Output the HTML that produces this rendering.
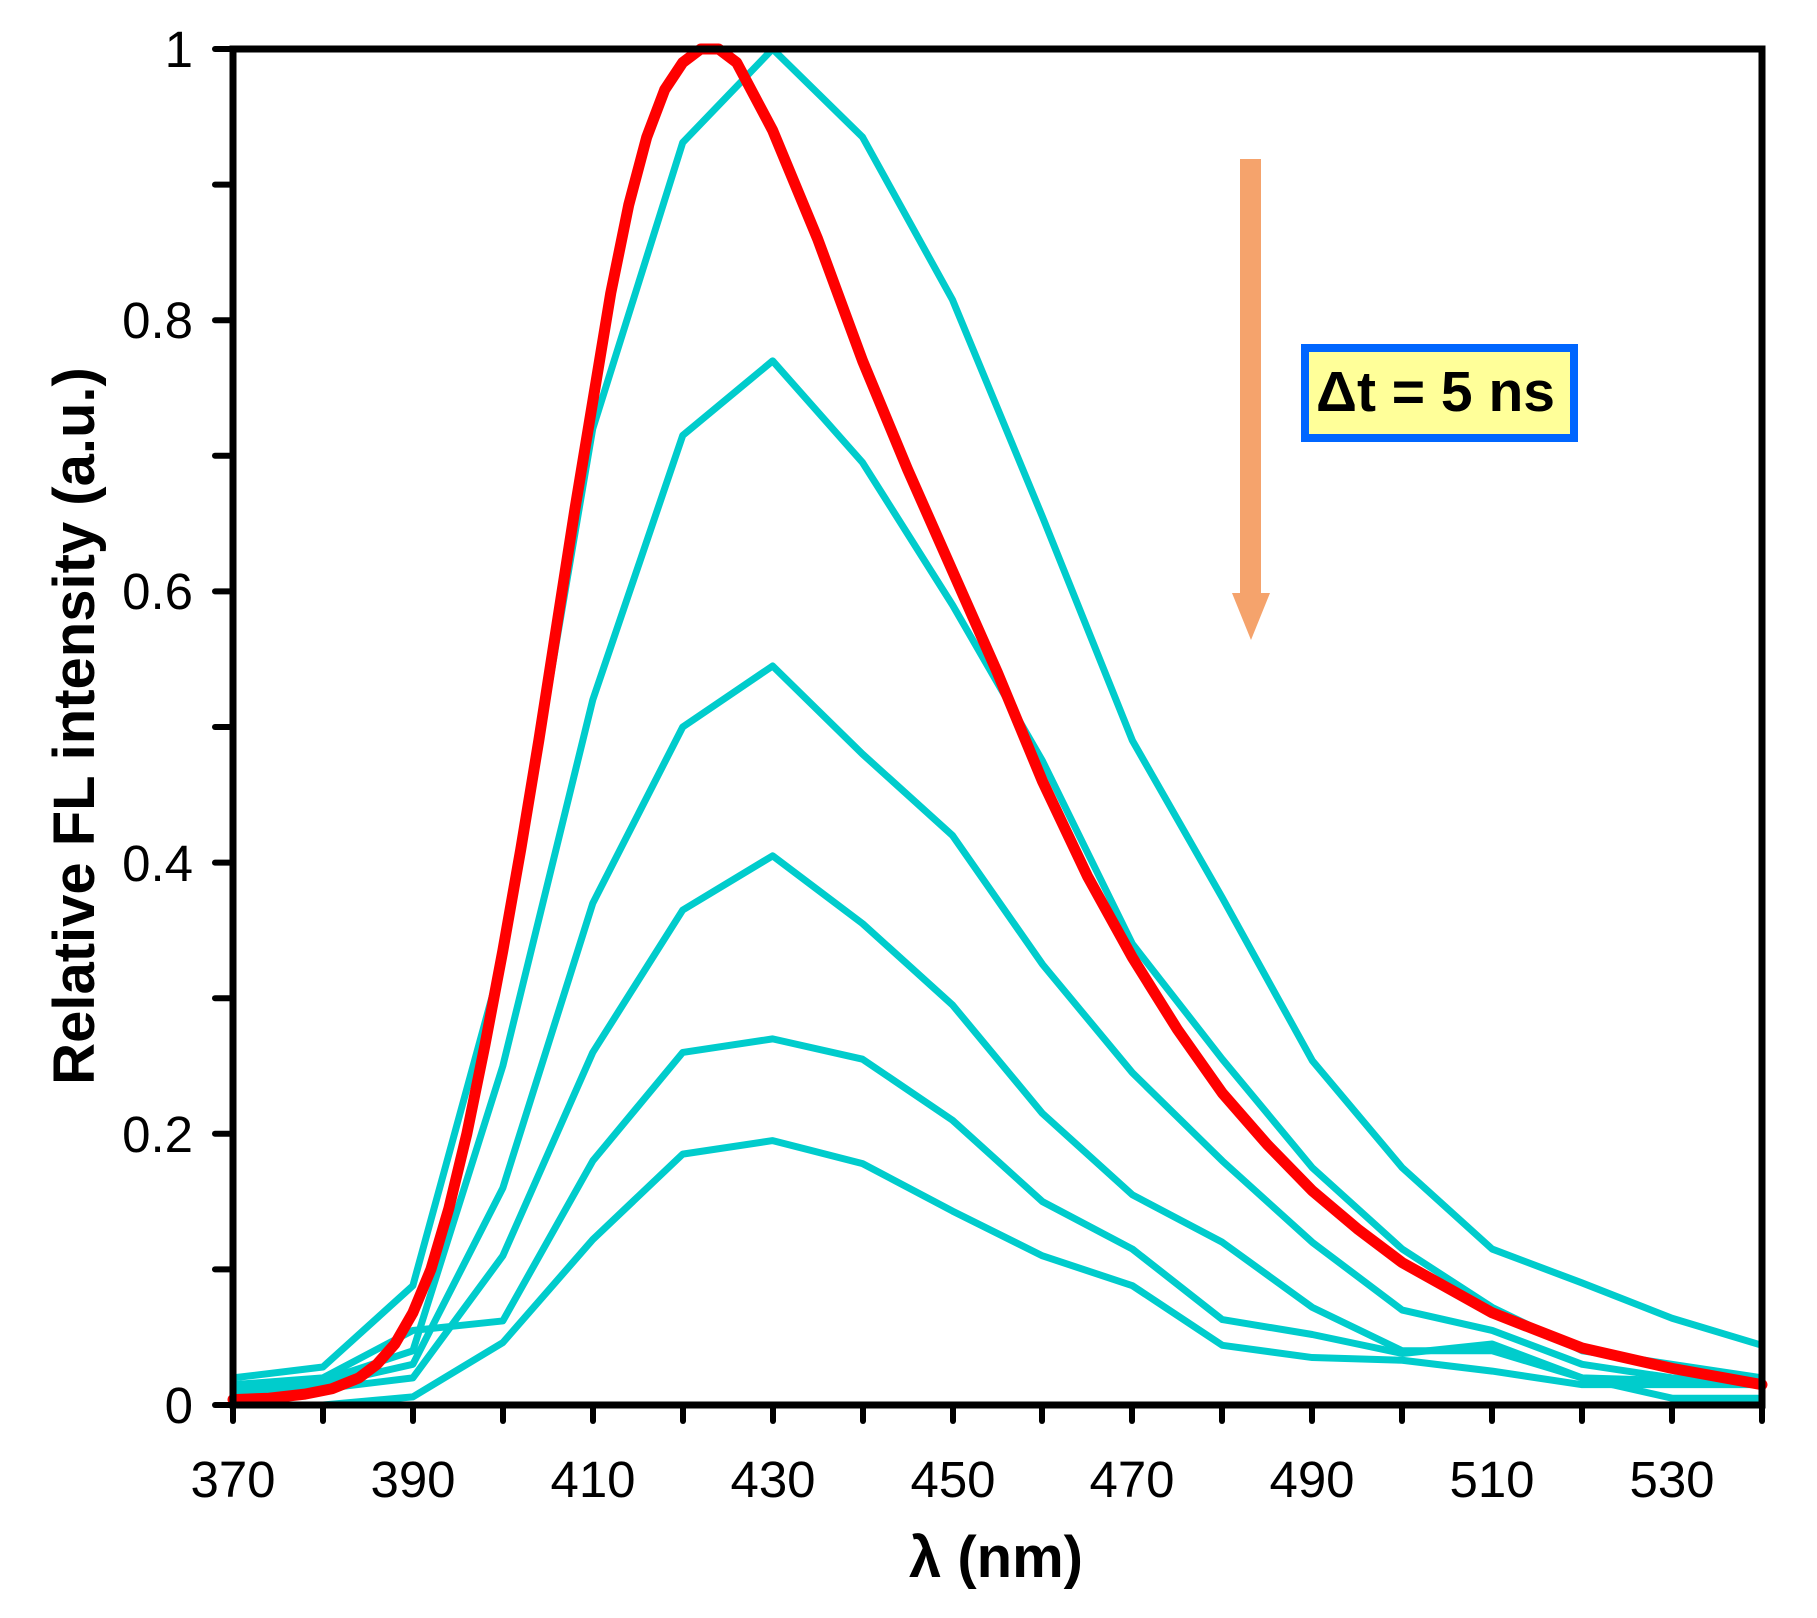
<!DOCTYPE html>
<html><head><meta charset="utf-8"><style>html,body{margin:0;padding:0;background:#fff}svg{display:block}</style></head>
<body>
<svg width="1817" height="1618" viewBox="0 0 1817 1618" xmlns="http://www.w3.org/2000/svg" font-family="'Liberation Sans', Arial, sans-serif">
<rect width="1817" height="1618" fill="#fff"/>
<g transform="translate(233,1405) scale(8.994,-1356)" fill="none" stroke-linejoin="round" stroke-linecap="round">
<g stroke="#00cccc" stroke-width="7">
<polyline vector-effect="non-scaling-stroke" points="0,0.02 10,0.028 20,0.088 30,0.33 40,0.72 50,0.931 60,1.0 70,0.935 80,0.815 90,0.655 100,0.49 110,0.374 120,0.254 130,0.175 140,0.115 150,0.09 160,0.064 170,0.044"/>
<polyline vector-effect="non-scaling-stroke" points="0,0.012 10,0.018 20,0.04 30,0.25 40,0.52 50,0.715 60,0.77 70,0.695 80,0.59 90,0.475 100,0.34 110,0.255 120,0.175 130,0.115 140,0.072 150,0.04 160,0.03 170,0.02"/>
<polyline vector-effect="non-scaling-stroke" points="0,0.01 10,0.015 20,0.03 30,0.16 40,0.37 50,0.5 60,0.545 70,0.48 80,0.42 90,0.325 100,0.245 110,0.18 120,0.12 130,0.07 140,0.055 150,0.03 160,0.02 170,0.015"/>
<polyline vector-effect="non-scaling-stroke" points="0,0.005 10,0.012 20,0.02 30,0.11 40,0.26 50,0.365 60,0.405 70,0.355 80,0.295 90,0.215 100,0.155 110,0.12 120,0.072 130,0.04 140,0.04 150,0.02 160,0.005 170,0.005"/>
<polyline vector-effect="non-scaling-stroke" points="0,0.015 10,0.02 20,0.055 30,0.062 40,0.18 50,0.26 60,0.27 70,0.255 80,0.21 90,0.15 100,0.115 110,0.063 120,0.052 130,0.038 140,0.045 150,0.02 160,0.018 170,0.018"/>
<polyline vector-effect="non-scaling-stroke" points="0,0.0 10,0.0 20,0.006 30,0.046 40,0.122 50,0.185 60,0.195 70,0.178 80,0.143 90,0.11 100,0.088 110,0.044 120,0.035 130,0.033 140,0.025 150,0.015 160,0.015 170,0.015"/>
</g>
<polyline vector-effect="non-scaling-stroke" stroke="#ff0000" stroke-width="11" points="0,0.004 4,0.005 8,0.008 11,0.012 14,0.02 16,0.03 18,0.045 20,0.068 22,0.1 24,0.145 26,0.2 28,0.265 30,0.335 32,0.41 34,0.49 36,0.575 38,0.66 40,0.74 42,0.82 44,0.885 46,0.935 48,0.97 50,0.99 52,1.0 54,1.0 56,0.99 58,0.965 60,0.94 62.5,0.9 65,0.86 67.5,0.815 70,0.77 75,0.69 80,0.615 85,0.54 90,0.46 95,0.39 100,0.33 105,0.277 110,0.23 115,0.192 120,0.158 125,0.13 130,0.105 140,0.068 150,0.042 160,0.027 170,0.015"/>
</g>
<rect x="233" y="49" width="1529" height="1356" fill="none" stroke="#000" stroke-width="7"/>
<g stroke="#000" stroke-width="6" stroke-linecap="round">
<line x1="215" y1="1405" x2="233" y2="1405"/><line x1="215" y1="1269.4" x2="233" y2="1269.4"/><line x1="215" y1="1133.8" x2="233" y2="1133.8"/><line x1="215" y1="998.2" x2="233" y2="998.2"/><line x1="215" y1="862.6" x2="233" y2="862.6"/><line x1="215" y1="727" x2="233" y2="727"/><line x1="215" y1="591.4" x2="233" y2="591.4"/><line x1="215" y1="455.8" x2="233" y2="455.8"/><line x1="215" y1="320.2" x2="233" y2="320.2"/><line x1="215" y1="184.6" x2="233" y2="184.6"/><line x1="215" y1="49" x2="233" y2="49"/>
<line x1="233" y1="1405" x2="233" y2="1421"/><line x1="323" y1="1405" x2="323" y2="1421"/><line x1="413" y1="1405" x2="413" y2="1421"/><line x1="503" y1="1405" x2="503" y2="1421"/><line x1="593" y1="1405" x2="593" y2="1421"/><line x1="683" y1="1405" x2="683" y2="1421"/><line x1="773" y1="1405" x2="773" y2="1421"/><line x1="863" y1="1405" x2="863" y2="1421"/><line x1="953" y1="1405" x2="953" y2="1421"/><line x1="1042" y1="1405" x2="1042" y2="1421"/><line x1="1132" y1="1405" x2="1132" y2="1421"/><line x1="1222" y1="1405" x2="1222" y2="1421"/><line x1="1312" y1="1405" x2="1312" y2="1421"/><line x1="1402" y1="1405" x2="1402" y2="1421"/><line x1="1492" y1="1405" x2="1492" y2="1421"/><line x1="1582" y1="1405" x2="1582" y2="1421"/><line x1="1672" y1="1405" x2="1672" y2="1421"/><line x1="1762" y1="1405" x2="1762" y2="1421"/>
</g>
<g font-size="51" fill="#000" text-anchor="end">
<text x="193" y="1423">0</text>
<text x="193" y="1152">0.2</text>
<text x="193" y="881">0.4</text>
<text x="193" y="609">0.6</text>
<text x="193" y="338">0.8</text>
<text x="193" y="67">1</text>
</g>
<g font-size="51" fill="#000" text-anchor="middle">
<text x="233" y="1497">370</text><text x="413" y="1497">390</text><text x="593" y="1497">410</text><text x="773" y="1497">430</text><text x="953" y="1497">450</text><text x="1132" y="1497">470</text><text x="1312" y="1497">490</text><text x="1492" y="1497">510</text><text x="1672" y="1497">530</text>
</g>
<text x="996" y="1577" font-size="58" font-weight="bold" text-anchor="middle">λ (nm)</text>
<text transform="translate(94,726) rotate(-90)" font-size="58" font-weight="bold" text-anchor="middle">Relative FL intensity (a.u.)</text>
<rect x="1240" y="159" width="21" height="435" fill="#f5a36c"/>
<polygon points="1232,593 1270,593 1251,640" fill="#f5a36c"/>
<rect x="1305" y="348" width="269" height="90" fill="#ffff99" stroke="#0066ff" stroke-width="8"/>
<text x="1316" y="411" font-size="57" font-weight="bold">Δt = 5 ns</text>
</svg>
</body></html>
